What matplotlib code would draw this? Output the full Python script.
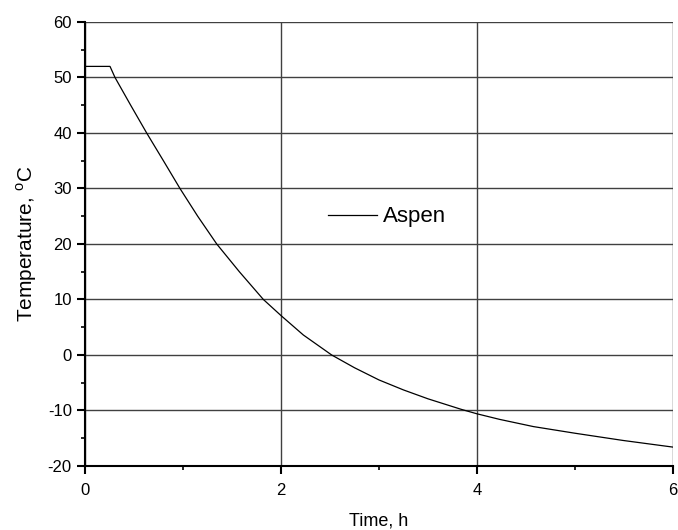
import matplotlib
matplotlib.use("Agg")
import matplotlib.pyplot as plt
from matplotlib.ticker import MultipleLocator

# values
time_h = [0, 0.255, 0.306, 0.466, 0.629, 0.80, 0.969, 1.15, 1.344, 1.575,
          1.82, 2.0, 2.228, 2.517, 2.75, 3.0, 3.25, 3.5, 3.84, 4.0,
          4.23, 4.575, 5.0, 5.49, 6.0]
temp_c = [52, 52, 50, 45, 40, 35, 30, 25, 20, 15,
          10, 7.1, 3.6, 0, -2.3, -4.5, -6.3, -7.9, -9.8, -10.6,
          -11.6, -12.9, -14.1, -15.4, -16.6]
series_name = "Aspen"

plt.rcParams['font.family'] = ['Liberation Sans', 'DejaVu Sans']
plt.rcParams['mathtext.fontset'] = 'custom'
plt.rcParams['mathtext.rm'] = 'Liberation Sans'
plt.rcParams['axes.unicode_minus'] = False

fig = plt.figure(figsize=(6.78, 5.30), dpi=100)
ax = fig.add_axes([0.1254, 0.1208, 0.8672, 0.8377])

ax.plot(time_h, temp_c, color='black', lw=0.9, label=series_name)

ax.set_xlim(0, 6)
ax.set_ylim(-20, 60)
ax.xaxis.set_major_locator(MultipleLocator(2))
ax.xaxis.set_minor_locator(MultipleLocator(1))
ax.yaxis.set_major_locator(MultipleLocator(10))
ax.yaxis.set_minor_locator(MultipleLocator(5))

ax.grid(True, which='major', color='0.25', lw=1.0)
ax.set_axisbelow(True)
for side in ['top', 'right']:
    ax.spines[side].set_visible(False)
for side in ['left', 'bottom']:
    ax.spines[side].set_linewidth(1.5)

ax.tick_params(which='major', direction='out', length=6, width=1.5, labelsize=12)
ax.tick_params(axis='x', which='major', pad=6)
ax.tick_params(which='minor', direction='out', length=3, width=1.2)

ax.set_xlabel('Time, h', fontsize=13, labelpad=11)
ax.set_ylabel(r'Temperature, $^{\mathrm{o}}$C', fontsize=15, labelpad=6)

ax.legend(loc='center left', bbox_to_anchor=(0.413, 0.561), frameon=False,
          fontsize=16, handlelength=2.2, handletextpad=0.27,
          borderpad=0, borderaxespad=0)

fig.savefig('out.png', dpi=100)
